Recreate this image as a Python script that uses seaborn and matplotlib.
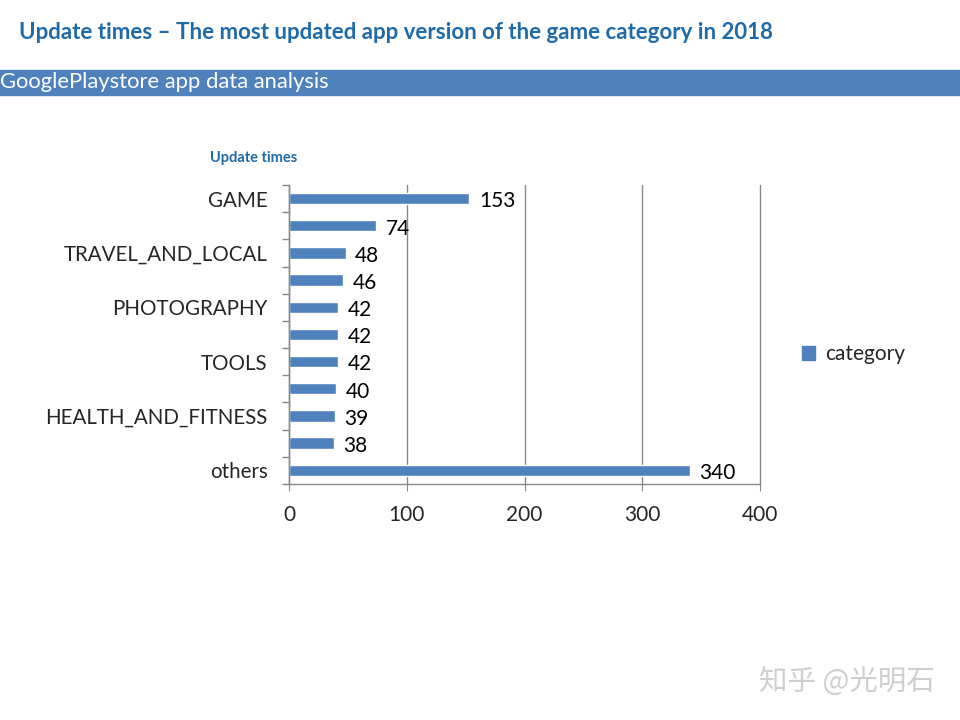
import matplotlib
matplotlib.use('Agg')
import matplotlib.pyplot as plt
import matplotlib.patches as mpatches
import pandas as pd
import seaborn as sns

# data
categories = ['GAME', 'FAMILY', 'TRAVEL_AND_LOCAL', 'SPORTS', 'PHOTOGRAPHY', 'PERSONALIZATION',
              'TOOLS', 'PRODUCTIVITY', 'HEALTH_AND_FITNESS', 'LIFESTYLE', 'others']
update_times = [153, 74, 48, 46, 42, 42, 42, 40, 39, 38, 340]
tick_labels = ['GAME', '', 'TRAVEL_AND_LOCAL', '', 'PHOTOGRAPHY', '', 'TOOLS', '',
               'HEALTH_AND_FITNESS', '', 'others']
x_ticks = [0, 100, 200, 300, 400]

df = pd.DataFrame({'category': categories, 'times': update_times})

sns.set_style('white')
plt.rcParams['font.family'] = ['Lato', 'DejaVu Sans']

blue = '#4F81BD'
title_blue = '#1F6AA8'
fs = 15

fig = plt.figure(figsize=(9.6, 7.2), dpi=100)
ax = fig.add_axes([0.301, 0.328, 0.491, 0.415])

sns.barplot(data=df, y='category', x='times', orient='h', color=blue,
            saturation=1, width=0.42, ax=ax)

for c in ax.containers:
    labels = ax.bar_label(c, padding=7, fontsize=fs, color='black')
    for t in labels:
        t.xyann = (7, -2)
        t.set_va('center')

ax.set_xlim(0, 400)
ax.set_ylim(10.5, -0.5)
ax.set_xticks(x_ticks)
ax.set_xticklabels([str(v) for v in x_ticks], fontsize=fs)
ax.set_yticks(range(len(categories)))
ax.set_yticklabels(tick_labels, fontsize=14.8)
ax.set_yticks([i - 0.5 for i in range(len(categories) + 1)], minor=True)
ax.tick_params(axis='y', which='major', length=0, pad=15.5)
ax.tick_params(axis='y', which='minor', length=5, color='#888888', width=1, direction='out', left=True)
ax.tick_params(axis='x', length=5, color='#888888', direction='out', bottom=True, pad=10)
ax.set_xlabel('')
ax.set_ylabel('')

ax.xaxis.grid(True, color='#888888', linewidth=1)
for gl in ax.get_xgridlines():
    gl.set_clip_on(False)
ax.set_axisbelow(True)
for side in ['top', 'right']:
    ax.spines[side].set_visible(False)
for side in ['left', 'bottom']:
    ax.spines[side].set_color('#888888')
    ax.spines[side].set_linewidth(1)

# legend
handle = mpatches.Patch(color=blue, label='category')
fig.legend(handles=[handle], loc='center left', bbox_to_anchor=(0.816, 0.508),
           frameon=False, fontsize=fs, handlelength=0.6, handleheight=0.6,
           handletextpad=0.5)

# titles and banner
fig.text(0.02, 0.955, 'Update times \u2013 The most updated app version of the game category in 2018',
         fontsize=16, fontweight='bold', color=title_blue, va='center')
fig.patches.append(mpatches.Rectangle((0, 0.868), 1, 0.035, transform=fig.transFigure,
                                      color=blue, zorder=0))
fig.text(0.0, 0.886, 'GooglePlaystore app data analysis', fontsize=15.8, color='white', va='center')
fig.text(0.219, 0.781, 'Update times', fontsize=10.5, fontweight='bold', color=title_blue, va='center')

fig.text(0.974, 0.052, '知乎 @光明石', fontsize=20.5, color='#CFCFCF', ha='right', va='center',
         family=['Noto Sans CJK SC', 'DejaVu Sans'])

fig.savefig('out.png', dpi=100)
